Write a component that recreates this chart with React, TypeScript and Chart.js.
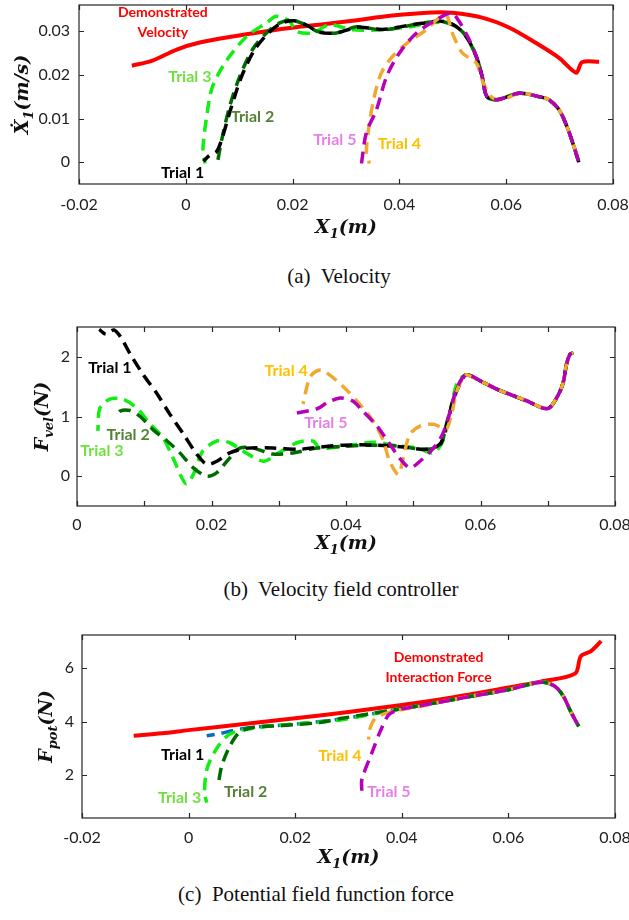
import React, { useEffect, useRef } from 'react';
import { Chart, registerables } from 'chart.js';

Chart.register(...registerables);

type P = [number, number];

// ---------------- (a) Velocity ----------------
const velXTicks = [-0.02, 0, 0.02, 0.04, 0.06, 0.08];
const velXLabels = ['-0.02', '0', '0.02', '0.04', '0.06', '0.08'];
const velYTicks = [0, 0.01, 0.02, 0.03];
const velYLabels = ['0', '0.01', '0.02', '0.03'];

const velDemo: P[] = [
  [-0.0101, 0.0221], [-0.0064, 0.0232], [-0.0017, 0.0258], [0.0026, 0.0274], [0.0088, 0.0288],
  [0.0151, 0.03], [0.0213, 0.031], [0.025, 0.0315], [0.0312, 0.0324], [0.0387, 0.0336],
  [0.0462, 0.0343], [0.0499, 0.0342], [0.0555, 0.0331], [0.0606, 0.0308], [0.0656, 0.0273],
  [0.0699, 0.0239], [0.0731, 0.0205], [0.0742, 0.0229], [0.0774, 0.023],
];
const velTail: P[] = [
  [0.0544, 0.0242], [0.0555, 0.0196], [0.0564, 0.015], [0.0583, 0.0143], [0.0624, 0.0158],
  [0.0662, 0.015], [0.068, 0.0143], [0.0699, 0.012], [0.0714, 0.0081], [0.0727, 0.0035], [0.0736, 0.0],
];
const velTrial1: P[] = [
  [0.0033, 0.0002], [0.0045, 0.0016], [0.0058, 0.0025], [0.0068, 0.0055], [0.0085, 0.0125],
  [0.0104, 0.0195], [0.0128, 0.0256], [0.0154, 0.0295], [0.0178, 0.0318], [0.0203, 0.0324],
  [0.0228, 0.0313], [0.0248, 0.0298], [0.0282, 0.0296], [0.0322, 0.0309], [0.0368, 0.0304],
  [0.0406, 0.0311], [0.0443, 0.0318], [0.0478, 0.0323], [0.0505, 0.0312], [0.0525, 0.0288],
  ...velTail,
];
const velTrial2: P[] = [
  [0.0058, -0.001], [0.0067, 0.005], [0.0082, 0.0127], [0.0101, 0.0196], [0.0125, 0.0258],
  [0.0151, 0.0296], [0.0176, 0.0319], [0.02, 0.0325], [0.0232, 0.031], [0.0245, 0.03],
  [0.0282, 0.0296], [0.032, 0.031], [0.0368, 0.0303], [0.0406, 0.031], [0.0443, 0.0319],
  [0.048, 0.0322], [0.0507, 0.031], [0.0525, 0.0288],
  ...velTail,
];
const velTrial3: P[] = [
  [0.0036, -0.0003], [0.0032, 0.0028], [0.0039, 0.0104], [0.005, 0.0173], [0.0077, 0.0234],
  [0.0114, 0.0288], [0.0151, 0.0319], [0.017, 0.0334], [0.0194, 0.0323], [0.0207, 0.03],
  [0.0237, 0.0296], [0.0269, 0.0315], [0.0312, 0.0303], [0.0357, 0.0303], [0.0419, 0.031],
  [0.0456, 0.0319], [0.0493, 0.0319], [0.0512, 0.0305], [0.0528, 0.0285],
  ...velTail,
];
const velTrial4: P[] = [
  [0.0344, -0.0003], [0.0338, 0.002], [0.0344, 0.009], [0.0353, 0.015], [0.0366, 0.0204],
  [0.0387, 0.0242], [0.0419, 0.0277], [0.045, 0.0303], [0.0475, 0.0331], [0.0488, 0.0338],
  [0.0499, 0.0296], [0.0518, 0.025], [0.0544, 0.0227], [0.0555, 0.0188], [0.0572, 0.015],
  [0.0593, 0.0143], [0.0624, 0.0158], [0.0662, 0.015], [0.068, 0.0143], [0.0699, 0.012],
  [0.0714, 0.0081], [0.0727, 0.0035], [0.0738, 0.0],
];
const velTrial5: P[] = [
  [0.0329, -0.0003], [0.0338, 0.0067], [0.0357, 0.012], [0.0376, 0.0196], [0.04, 0.025],
  [0.0432, 0.0296], [0.0469, 0.0326], [0.0497, 0.0342], [0.0512, 0.0322], [0.0531, 0.028],
  ...velTail,
];

// ---------------- (b) Velocity field controller ----------------
const fvXTicks = [0, 0.01, 0.02, 0.03, 0.04, 0.05, 0.06, 0.07, 0.08];
const fvXLabels = ['0', '', '0.02', '', '0.04', '', '0.06', '', '0.08'];
const fvYTicks = [0, 1, 2];
const fvYLabels = ['0', '1', '2'];

const fvTail: P[] = [
  [0.0579, 1.7], [0.0604, 1.57], [0.0624, 1.46], [0.0644, 1.37], [0.0669, 1.26],
  [0.0693, 1.14], [0.0703, 1.15], [0.0716, 1.37], [0.0723, 1.57], [0.0728, 1.88],
  [0.0733, 2.04], [0.0738, 2.07],
];
const fvTrial1: P[] = [
  [0.0033, 2.46], [0.0043, 2.38], [0.0055, 2.45], [0.0065, 2.33], [0.0079, 2.05],
  [0.0098, 1.71], [0.0119, 1.38], [0.0138, 1.04], [0.0158, 0.71], [0.0178, 0.37],
  [0.0193, 0.2], [0.0208, 0.25], [0.0227, 0.39], [0.0253, 0.47], [0.0291, 0.47],
  [0.0332, 0.45], [0.0346, 0.47], [0.0396, 0.52], [0.0446, 0.52], [0.0485, 0.49],
  [0.052, 0.45], [0.054, 0.54], [0.055, 0.87], [0.0559, 1.26], [0.057, 1.56],
  ...fvTail,
];
const fvTrial2: P[] = [
  [0.0057, 0.98], [0.0064, 1.09], [0.0079, 1.1], [0.0094, 1.0], [0.0113, 0.78],
  [0.0134, 0.59], [0.0153, 0.39], [0.0173, 0.14], [0.0193, 0.0], [0.0208, 0.06],
  [0.0223, 0.25], [0.0242, 0.47], [0.0262, 0.47], [0.0291, 0.37], [0.0321, 0.39],
  [0.0357, 0.47], [0.0396, 0.5], [0.0446, 0.52], [0.048, 0.5], [0.052, 0.45],
  [0.054, 0.52], [0.055, 0.9], [0.056, 1.3], [0.057, 1.58],
  ...fvTail,
];
const fvTrial3: P[] = [
  [0.0031, 0.76], [0.0034, 1.14], [0.0049, 1.29], [0.0068, 1.29], [0.0089, 1.14],
  [0.0109, 0.87], [0.0128, 0.64], [0.0143, 0.3], [0.0156, -0.03], [0.0163, -0.13],
  [0.0173, 0.03], [0.0187, 0.42], [0.0208, 0.59], [0.0227, 0.56], [0.0247, 0.42],
  [0.0277, 0.25], [0.0297, 0.37], [0.0327, 0.56], [0.0351, 0.59], [0.0361, 0.47],
  [0.0396, 0.5], [0.044, 0.57], [0.047, 0.52], [0.0506, 0.47], [0.053, 0.39],
  [0.0544, 0.59], [0.0555, 1.09], [0.0565, 1.55],
  ...fvTail,
];
const fvTrial4: P[] = [
  [0.0336, 1.21], [0.0346, 1.65], [0.0356, 1.76], [0.0366, 1.77], [0.0396, 1.5],
  [0.042, 1.21], [0.0438, 0.96], [0.0454, 0.64], [0.0465, 0.25], [0.0478, 0.03],
  [0.0485, 0.3], [0.0495, 0.7], [0.051, 0.84], [0.053, 0.87], [0.0543, 0.81],
  [0.055, 0.8], [0.0557, 1.04], [0.0565, 1.43], [0.0574, 1.65],
  ...fvTail,
];
const fvTrial5: P[] = [
  [0.0327, 1.06], [0.0357, 1.13], [0.0372, 1.23], [0.0391, 1.31], [0.041, 1.26],
  [0.0425, 1.09], [0.0446, 0.84], [0.0465, 0.54], [0.048, 0.3], [0.0495, 0.14],
  [0.051, 0.25], [0.053, 0.47], [0.0544, 0.71], [0.0555, 1.09], [0.0565, 1.48],
  ...fvTail,
];

// ---------------- (c) Potential field function force ----------------
const fpXTicks = [-0.02, 0, 0.02, 0.04, 0.06, 0.08];
const fpXLabels = ['-0.02', '0', '0.02', '0.04', '0.06', '0.08'];
const fpYTicks = [2, 4, 6];
const fpYLabels = ['2', '4', '6'];

const fpDemo: P[] = [
  [-0.0103, 3.47], [-0.005, 3.56], [0.0, 3.68], [0.01, 3.9], [0.02, 4.12],
  [0.03, 4.36], [0.04, 4.62], [0.05, 4.92], [0.06, 5.27], [0.0662, 5.5],
  [0.0725, 5.79], [0.0736, 6.44], [0.0755, 6.63], [0.0774, 7.0],
];
const fpTail: P[] = [
  [0.0413, 4.52], [0.0475, 4.74], [0.0538, 4.97], [0.06, 5.19], [0.0662, 5.47],
  [0.0687, 5.32], [0.0703, 4.95], [0.0715, 4.45], [0.0725, 4.07], [0.0732, 3.82],
];
const fpTrial1: P[] = [
  [0.0034, 3.47], [0.0058, 3.55], [0.0082, 3.66], [0.011, 3.76], [0.015, 3.83],
  [0.0207, 3.92], [0.0288, 4.1], [0.0381, 4.42],
  ...fpTail,
];
const fpTrial2: P[] = [
  [0.0055, 1.57], [0.0062, 2.33], [0.0077, 3.07], [0.0095, 3.59], [0.012, 3.78],
  [0.0176, 3.85], [0.0245, 3.96], [0.0288, 4.12], [0.0381, 4.42],
  ...fpTail,
];
const fpTrial3: P[] = [
  [0.0034, 0.97], [0.003, 1.35], [0.0034, 2.2], [0.0049, 2.88], [0.0071, 3.44],
  [0.0095, 3.66], [0.0146, 3.81], [0.0207, 3.92], [0.0288, 4.07], [0.0381, 4.42],
  ...fpTail,
];
const fpTrial4: P[] = [
  [0.0338, 3.33], [0.0338, 3.59], [0.035, 4.11], [0.0381, 4.37], [0.0444, 4.6],
  ...fpTail.slice(1),
];
const fpTrial5: P[] = [
  [0.0325, 1.42], [0.0325, 1.83], [0.0344, 2.84], [0.0361, 3.7], [0.0376, 4.26], [0.04, 4.47],
  ...fpTail,
];

// ---------------- colours ----------------
const RED = '#ff0000';
const C1 = '#000000';
const C1c = '#0070c0';
const C2 = '#006b00';
const C3 = '#11ee11';
const C4 = '#f0a830';
const C5 = '#b800b8';
const L2 = '#548235';
const L3 = '#70e040';
const L4 = '#ffc000';
const L5 = '#e680e6';

type Seg = { t: string; sub?: boolean };
interface Ann { text: string; x: number; y: number; color: string; size?: number }
interface Axis { min: number; max: number; ticks: number[]; labels: string[]; pad: number }
interface PanelProps {
  top: number;
  height: number;
  area: { left: number; right: number; top: number; bottom: number };
  datasets: any[];
  x: Axis;
  y: Axis;
  xTitle: Seg[];
  xTitleDy: number;
  yTitle: Seg[];
  yTitleX: number;
  anns: Ann[];
}

const W = 629;

function xy(d: P[]) {
  return d.map(([x, y]) => ({ x, y }));
}
function solid(d: P[], color: string) {
  return { data: xy(d), borderColor: color, borderWidth: 4, pointRadius: 0, showLine: true, tension: 0.3, fill: false };
}
function dashed(d: P[], color: string, offset: number) {
  return {
    data: xy(d), borderColor: color, borderWidth: 3.5, borderDash: [12, 7], borderDashOffset: offset,
    pointRadius: 0, showLine: true, tension: 0.3, fill: false,
  };
}

function drawRich(ctx: CanvasRenderingContext2D, segs: Seg[], cx: number, cy: number, rotate: boolean, size: number) {
  const mainFont = `bold italic ${size}px "DejaVu Serif"`;
  const subFont = `bold italic ${Math.round(size * 0.68)}px "DejaVu Serif"`;
  ctx.save();
  ctx.translate(cx, cy);
  if (rotate) ctx.rotate(-Math.PI / 2);
  let total = 0;
  const widths = segs.map((s) => {
    ctx.font = s.sub ? subFont : mainFont;
    const w = ctx.measureText(s.t).width;
    total += w;
    return w;
  });
  let x = -total / 2;
  const base = size * 0.36;
  ctx.textAlign = 'left';
  ctx.textBaseline = 'alphabetic';
  ctx.fillStyle = '#111';
  segs.forEach((s, i) => {
    ctx.font = s.sub ? subFont : mainFont;
    ctx.fillText(s.t, x, s.sub ? base + size * 0.25 : base);
    x += widths[i];
  });
  ctx.restore();
}

function makeDecor(p: PanelProps) {
  return {
    id: 'decor',
    afterDatasetsDraw(chart: any) {
      const { ctx, chartArea: ca, scales } = chart;
      ctx.save();
      ctx.strokeStyle = '#262626';
      ctx.lineWidth = 1.2;
      ctx.strokeRect(ca.left, ca.top, ca.right - ca.left, ca.bottom - ca.top);
      const tl = 5;
      ctx.beginPath();
      scales.x.ticks.forEach((t: any) => {
        const px = Math.round(scales.x.getPixelForValue(t.value)) + 0.5;
        ctx.moveTo(px, ca.bottom);
        ctx.lineTo(px, ca.bottom - tl);
        ctx.moveTo(px, ca.top);
        ctx.lineTo(px, ca.top + tl);
      });
      scales.y.ticks.forEach((t: any) => {
        const py = Math.round(scales.y.getPixelForValue(t.value)) + 0.5;
        ctx.moveTo(ca.left, py);
        ctx.lineTo(ca.left + tl, py);
        ctx.moveTo(ca.right, py);
        ctx.lineTo(ca.right - tl, py);
      });
      ctx.stroke();
      drawRich(ctx, p.xTitle, (ca.left + ca.right) / 2, ca.bottom + p.xTitleDy, false, 19);
      drawRich(ctx, p.yTitle, p.yTitleX, (ca.top + ca.bottom) / 2, true, 19);
      p.anns.forEach((a) => {
        ctx.font = `bold ${a.size || 16}px Lato`;
        ctx.fillStyle = a.color;
        ctx.textAlign = 'center';
        ctx.textBaseline = 'middle';
        ctx.fillText(a.text, scales.x.getPixelForValue(a.x), scales.y.getPixelForValue(a.y));
      });
      ctx.restore();
    },
  };
}

function Panel(p: PanelProps) {
  const ref = useRef<HTMLCanvasElement>(null);
  useEffect(() => {
    if (!ref.current) return;
    const tickFont = { family: 'Lato', size: 16 };
    const chart = new Chart(ref.current, {
      type: 'scatter',
      data: { datasets: p.datasets },
      options: {
        animation: false,
        responsive: false,
        devicePixelRatio: 1,
        layout: { padding: { top: p.area.top, right: W - p.area.right, left: 0, bottom: 0 } },
        plugins: { legend: { display: false }, tooltip: { enabled: false }, title: { display: false } },
        scales: {
          x: {
            type: 'linear',
            min: p.x.min,
            max: p.x.max,
            grid: { display: false, drawTicks: false },
            border: { display: false },
            ticks: {
              font: tickFont, color: '#222', padding: p.x.pad, maxRotation: 0, autoSkip: false,
              callback: (_v: any, i: number) => p.x.labels[i],
            },
            afterBuildTicks: (s: any) => { s.ticks = p.x.ticks.map((v) => ({ value: v })); },
            afterFit: (s: any) => {
              s.height = p.height - p.area.bottom;
              s.paddingLeft = 0; s.paddingRight = 0; s.paddingTop = 0; s.paddingBottom = 0;
            },
          },
          y: {
            type: 'linear',
            min: p.y.min,
            max: p.y.max,
            grid: { display: false, drawTicks: false },
            border: { display: false },
            ticks: {
              font: tickFont, color: '#222', padding: p.y.pad, autoSkip: false,
              callback: (_v: any, i: number) => p.y.labels[i],
            },
            afterBuildTicks: (s: any) => { s.ticks = p.y.ticks.map((v) => ({ value: v })); },
            afterFit: (s: any) => {
              s.width = p.area.left;
              s.paddingLeft = 0; s.paddingRight = 0; s.paddingTop = 0; s.paddingBottom = 0;
            },
          },
        },
      } as any,
      plugins: [makeDecor(p)],
    });
    return () => chart.destroy();
  }, []);
  return (
    <div style={{ position: 'absolute', left: 0, top: p.top, width: W, height: p.height }}>
      <canvas ref={ref} width={W} height={p.height} style={{ width: W, height: p.height, display: 'block' }} />
    </div>
  );
}

function Caption({ text, cx, cy }: { text: string; cx: number; cy: number }) {
  return (
    <div
      style={{
        position: 'absolute', left: cx - 250, top: cy - 12, width: 500, height: 24, lineHeight: '24px',
        textAlign: 'center', whiteSpace: 'pre', fontFamily: '"Liberation Serif", "Times New Roman", serif',
        fontSize: 21, color: '#111',
      }}
    >
      {text}
    </div>
  );
}

const X1: Seg[] = [{ t: 'X' }, { t: '1', sub: true }, { t: '(m)' }];

export default function App() {
  return (
    <div style={{ position: 'absolute', left: 0, top: 0, width: W, height: 920, background: '#fff' }}>
      <Panel
        top={0}
        height={245}
        area={{ left: 79, right: 613, top: 5, bottom: 184 }}
        datasets={[
          dashed(velTrial5, C5, 0),
          dashed(velTrial4, C4, 9),
          dashed(velTrial1, C1, 4),
          dashed(velTrial2, C2, 12),
          dashed(velTrial3, C3, 6),
          solid(velDemo, RED),
        ]}
        x={{ min: -0.02, max: 0.08, ticks: velXTicks, labels: velXLabels, pad: 11 }}
        y={{ min: -0.005, max: 0.036, ticks: velYTicks, labels: velYLabels, pad: 9 }}
        xTitle={X1}
        xTitleDy={42}
        yTitle={[{ t: 'Ẋ' }, { t: '1', sub: true }, { t: '(m/s)' }]}
        yTitleX={21}
        anns={[
          { text: 'Demonstrated', x: -0.0043, y: 0.0343, color: RED, size: 14 },
          { text: 'Velocity', x: -0.0043, y: 0.0297, color: RED, size: 14 },
          { text: 'Trial 3', x: 0.00075, y: 0.0195, color: L3 },
          { text: 'Trial 2', x: 0.0125, y: 0.0103, color: L2 },
          { text: 'Trial 1', x: -0.0006, y: -0.0025, color: C1 },
          { text: 'Trial 5', x: 0.0279, y: 0.0051, color: L5 },
          { text: 'Trial 4', x: 0.04, y: 0.0041, color: L4 },
        ]}
      />
      <Caption text="(a)  Velocity" cx={339} cy={276} />
      <Panel
        top={300}
        height={260}
        area={{ left: 77, right: 615, top: 27, bottom: 206 }}
        datasets={[
          dashed(fvTrial5, C5, 0),
          dashed(fvTrial4, C4, 9),
          dashed(fvTrial1, C1, 4),
          dashed(fvTrial2, C2, 12),
          dashed(fvTrial3, C3, 6),
        ]}
        x={{ min: 0, max: 0.08, ticks: fvXTicks, labels: fvXLabels, pad: 9 }}
        y={{ min: -0.5, max: 2.5, ticks: fvYTicks, labels: fvYLabels, pad: 7 }}
        xTitle={X1}
        xTitleDy={36}
        yTitle={[{ t: 'F' }, { t: 'vel', sub: true }, { t: '(N)' }]}
        yTitleX={41}
        anns={[
          { text: 'Trial 1', x: 0.0049, y: 1.82, color: C1 },
          { text: 'Trial 2', x: 0.0076, y: 0.7, color: L2 },
          { text: 'Trial 3', x: 0.0037, y: 0.42, color: L3 },
          { text: 'Trial 4', x: 0.0311, y: 1.76, color: L4 },
          { text: 'Trial 5', x: 0.037, y: 0.89, color: L5 },
        ]}
      />
      <Caption text="(b)  Velocity field controller" cx={341} cy={589} />
      <Panel
        top={610}
        height={260}
        area={{ left: 82, right: 615, top: 25, bottom: 208 }}
        datasets={[
          dashed(fpTrial5, C5, 0),
          dashed(fpTrial4, C4, 9),
          dashed(fpTrial2, C2, 12),
          dashed(fpTrial3, C3, 6),
          dashed(fpTrial1, C1c, 4),
          solid(fpDemo, RED),
        ]}
        x={{ min: -0.02, max: 0.08, ticks: fpXTicks, labels: fpXLabels, pad: 10 }}
        y={{ min: 0.4, max: 7.23, ticks: fpYTicks, labels: fpYLabels, pad: 8 }}
        xTitle={X1}
        xTitleDy={38}
        yTitle={[{ t: 'F' }, { t: 'pot', sub: true }, { t: '(N)' }]}
        yTitleX={45}
        anns={[
          { text: 'Demonstrated', x: 0.0469, y: 6.39, color: RED, size: 14 },
          { text: 'Interaction Force', x: 0.0469, y: 5.64, color: RED, size: 14 },
          { text: 'Trial 1', x: -0.0011, y: 2.77, color: C1 },
          { text: 'Trial 2', x: 0.0107, y: 1.38, color: L2 },
          { text: 'Trial 3', x: -0.0017, y: 1.16, color: L3 },
          { text: 'Trial 4', x: 0.0284, y: 2.73, color: L4 },
          { text: 'Trial 5', x: 0.0376, y: 1.38, color: L5 },
        ]}
      />
      <Caption text="(c)  Potential field function force" cx={316} cy={894} />
    </div>
  );
}
